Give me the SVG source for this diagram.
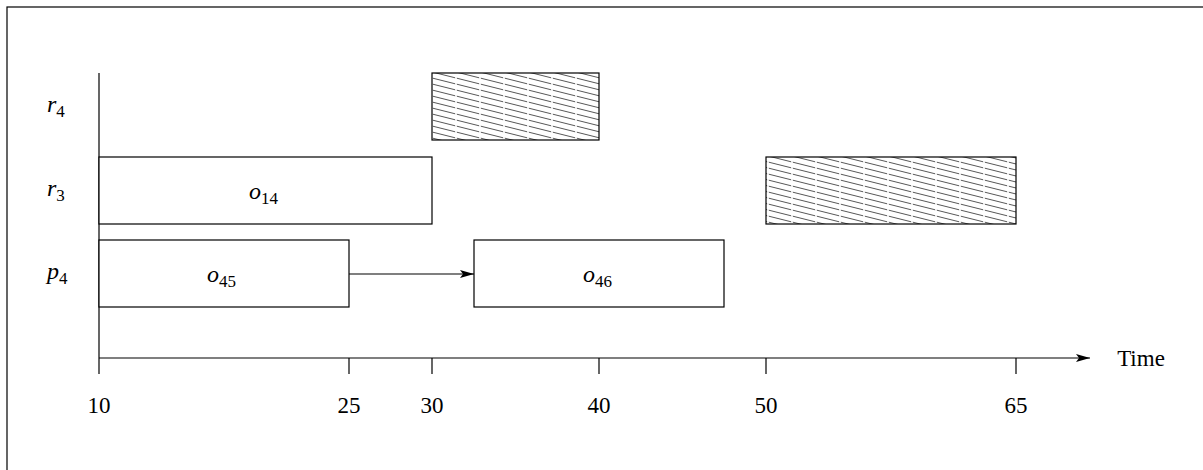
<svg xmlns="http://www.w3.org/2000/svg" width="1203" height="470" viewBox="0 0 1203 470">
<style>
.box{fill:#fff;stroke:#000;stroke-width:1.2}
.hatch{fill:url(#hp);stroke:#000;stroke-width:1.2}
.ax{stroke:#000;stroke-width:1.2;fill:none}
.lbl{font-family:"Liberation Serif",serif;font-style:italic;font-size:24px;fill:#000}
.sub{font-style:normal;font-size:17px}
.num{font-family:"Liberation Serif",serif;font-size:23px;fill:#000;text-anchor:middle}
</style>
<defs>
<pattern id="hp" patternUnits="userSpaceOnUse" width="24" height="6">
<rect width="24" height="6" fill="#fff"/>
<line x1="0.8" y1="0.2" x2="23.2" y2="5.8" stroke="#444" stroke-width="0.9"/>
<line x1="0.8" y1="-5.8" x2="23.2" y2="-0.2" stroke="#444" stroke-width="0.9"/>
<line x1="0.8" y1="6.2" x2="23.2" y2="11.8" stroke="#444" stroke-width="0.9"/>
</pattern>
<marker id="ah" markerWidth="14" markerHeight="8" refX="14" refY="4" orient="auto" markerUnits="userSpaceOnUse">
<path d="M0,0 L14,4 L0,8 L3,4 Z" fill="#000"/>
</marker>
</defs>
<rect x="7" y="7" width="1220" height="490" fill="none" stroke="#000" stroke-width="1.2"/>
<g id="axes">
<line class="ax" x1="99" y1="73" x2="99" y2="374"/>
<line class="ax" x1="99" y1="358" x2="1090" y2="358" marker-end="url(#ah)"/>
<line class="ax" x1="349" y1="358" x2="349" y2="374"/>
<line class="ax" x1="432" y1="358" x2="432" y2="374"/>
<line class="ax" x1="599" y1="358" x2="599" y2="374"/>
<line class="ax" x1="766" y1="358" x2="766" y2="374"/>
<line class="ax" x1="1016" y1="358" x2="1016" y2="374"/>
<text class="num" x="99" y="413">10</text>
<text class="num" x="349" y="413">25</text>
<text class="num" x="432" y="413">30</text>
<text class="num" x="599" y="413">40</text>
<text class="num" x="766" y="413">50</text>
<text class="num" x="1016" y="413">65</text>
<text class="num" x="1141" y="366">Time</text>
</g>
<g id="rowlabels">
<text class="lbl" x="47" y="112">r<tspan class="sub" dy="5">4</tspan></text>
<text class="lbl" x="47" y="196">r<tspan class="sub" dy="5">3</tspan></text>
<text class="lbl" x="47" y="279">p<tspan class="sub" dy="5">4</tspan></text>
</g>
<g id="r4-blocked">
<rect class="hatch" x="432" y="73" width="167" height="67"/>
</g>
<g id="o14">
<rect class="box" x="99" y="157" width="333" height="67"/>
<text class="lbl" x="249" y="199">o<tspan class="sub" dy="5">14</tspan></text>
</g>
<g id="r3-blocked">
<rect class="hatch" x="766" y="157" width="250" height="67"/>
</g>
<g id="o45">
<rect class="box" x="99" y="240" width="250" height="67"/>
<text class="lbl" x="207" y="282">o<tspan class="sub" dy="5">45</tspan></text>
</g>
<g id="o46">
<rect class="box" x="474" y="240" width="250" height="67"/>
<text class="lbl" x="583" y="282">o<tspan class="sub" dy="5">46</tspan></text>
</g>
<g id="connectors">
<line class="ax" x1="349" y1="274" x2="474" y2="274" marker-end="url(#ah)"/>
</g>
</svg>
